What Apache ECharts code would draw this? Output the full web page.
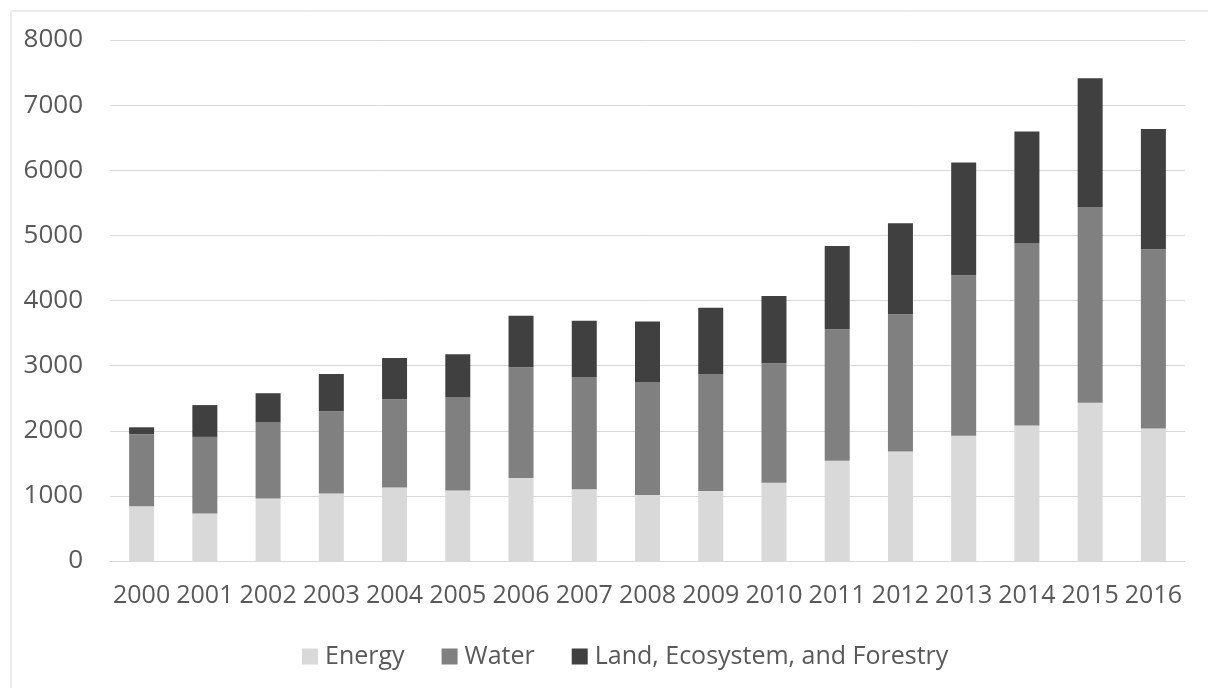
<!DOCTYPE html>
<html>
<head>
<meta charset="utf-8">
<script src="https://cdn.jsdelivr.net/npm/echarts@6/dist/echarts.min.js"></script>
<style>
html, body { margin: 0; padding: 0; background: #fff; }
#chart { width: 1208px; height: 688px; }
</style>
</head>
<body>
<div id="chart"></div>
<script>
// years on the x axis
const years = ["2000", "2001", "2002", "2003", "2004", "2005", "2006", "2007", "2008",
    "2009", "2010", "2011", "2012", "2013", "2014", "2015", "2016"];

// stacked values
const energy = [841, 729, 959, 1035, 1129, 1082, 1276, 1100, 1012, 1076, 1200, 1541, 1682, 1924, 2082, 2429, 2035];
const water = [1106, 1177, 1170, 1265, 1353, 1430, 1700, 1724, 1735, 1795, 1835, 2018, 2106, 2464, 2794, 3006, 2753];
const land = [106, 488, 447, 571, 636, 664, 789, 864, 929, 1017, 1036, 1276, 1400, 1730, 1718, 1977, 1847];

const seriesNames = ["Energy", "Water", "Land, Ecosystem, and Forestry"];
const seriesColors = ["#d9d9d9", "#808080", "#404040"];

const font = "'Open Sans', 'Noto Sans', sans-serif";

let myChart = echarts.init(document.getElementById("chart"));

function barSeries(name, data, color) {
    return {
        name: name,
        type: "bar",
        stack: "total",
        barWidth: 25,
        data: data,
        itemStyle: {
            color: color
        }
    };
}

let option = {
    backgroundColor: "#fff",
    animation: false,
    // light frame round the chart
    graphic: [
        {
            type: "rect",
            shape: { x: 11, y: 11, width: 1220, height: 720 },
            style: { fill: "none", stroke: "#d9d9d9", lineWidth: 1 },
            z: -1
        }
    ],
    grid: {
        left: 110,
        right: 23,
        top: 40,
        bottom: 127
    },
    legend: {
        bottom: 14,
        left: 297,
        itemWidth: 16,
        itemHeight: 16,
        itemGap: 37,
        icon: "rect",
        textStyle: {
            color: "#595959",
            fontSize: 25,
            fontFamily: font,
            padding: [0, 0, 0, 2]
        },
        data: seriesNames
    },
    xAxis: {
        type: "category",
        data: years,
        axisLine: { lineStyle: { color: "#d9d9d9" } },
        axisTick: { show: false },
        axisLabel: {
            color: "#595959",
            fontSize: 25,
            fontFamily: font,
            margin: 22,
            interval: 0
        }
    },
    yAxis: {
        type: "value",
        min: 0,
        max: 8000,
        interval: 1000,
        axisLine: { show: false },
        axisTick: { show: false },
        splitLine: { lineStyle: { color: "#d9d9d9" } },
        axisLabel: {
            color: "#595959",
            fontSize: 26,
            fontFamily: font,
            margin: 27,
            formatter: function (v) { return String(v); }
        }
    },
    series: [
        barSeries(seriesNames[0], energy, seriesColors[0]),
        barSeries(seriesNames[1], water, seriesColors[1]),
        barSeries(seriesNames[2], land, seriesColors[2])
    ]
};

myChart.setOption(option);
</script>
</body>
</html>
